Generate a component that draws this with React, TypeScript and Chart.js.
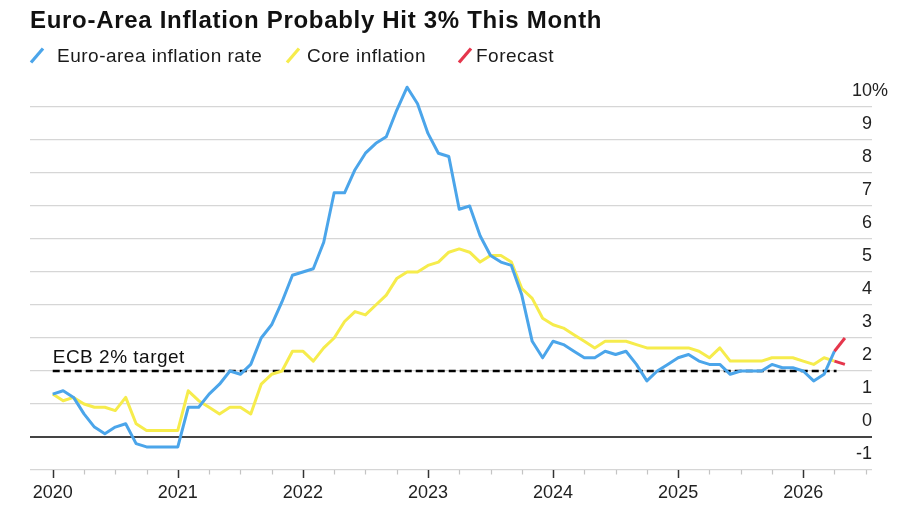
import React, { useEffect, useRef } from 'react';
import { Chart, registerables } from 'chart.js';

Chart.register(...registerables);

// Monthly data, first point = Dec 2019, last actual = Mar 2026
const headline = [
  1.3,
  1.4, 1.2, 0.7, 0.3, 0.1, 0.3, 0.4, -0.2, -0.3, -0.3, -0.3, -0.3,
  0.9, 0.9, 1.3, 1.6, 2.0, 1.9, 2.2, 3.0, 3.4, 4.1, 4.9, 5.0,
  5.1, 5.9, 7.4, 7.4, 8.1, 8.6, 8.9, 9.1, 9.9, 10.6, 10.1, 9.2,
  8.6, 8.5, 6.9, 7.0, 6.1, 5.5, 5.3, 5.2, 4.3, 2.9, 2.4, 2.9,
  2.8, 2.6, 2.4, 2.4, 2.6, 2.5, 2.6, 2.2, 1.7, 2.0, 2.2, 2.4,
  2.5, 2.3, 2.2, 2.2, 1.9, 2.0, 2.0, 2.0, 2.2, 2.1, 2.1, 2.0,
  1.7, 1.9, 2.6,
];
const core = [
  1.3,
  1.1, 1.2, 1.0, 0.9, 0.9, 0.8, 1.2, 0.4, 0.2, 0.2, 0.2, 0.2,
  1.4, 1.1, 0.9, 0.7, 0.9, 0.9, 0.7, 1.6, 1.9, 2.0, 2.6, 2.6,
  2.3, 2.7, 3.0, 3.5, 3.8, 3.7, 4.0, 4.3, 4.8, 5.0, 5.0, 5.2,
  5.3, 5.6, 5.7, 5.6, 5.3, 5.5, 5.5, 5.3, 4.5, 4.2, 3.6, 3.4,
  3.3, 3.1, 2.9, 2.7, 2.9, 2.9, 2.9, 2.8, 2.7, 2.7, 2.7, 2.7,
  2.7, 2.6, 2.4, 2.7, 2.3, 2.3, 2.3, 2.3, 2.4, 2.4, 2.4, 2.3,
  2.2, 2.4, 2.3,
];
// Forecast: from Mar 2026 (last actual) to Apr 2026
const forecastHeadline = [2.6, 3.0];
const forecastCore = [2.3, 2.2];

const yearLabels = ['2020', '2021', '2022', '2023', '2024', '2025', '2026'];
const yTickValues = [-1, 0, 1, 2, 3, 4, 5, 6, 7, 8, 9, 10];
const ecbTarget = 2;
const ecbLabel = 'ECB 2% target';
const targetEnd = 75.2;

const BLUE = '#4ba5ea';
const YELLOW = '#f6ec4c';
const RED = '#e5364c';
const FONT = "'Liberation Sans', Arial, Helvetica, sans-serif";

const xTickValues: number[] = [];
for (let v = 0; v <= 78; v += 3) xTickValues.push(v);

const decorPlugin = {
  id: 'decor',
  afterDraw(chart: any) {
    const { ctx, scales } = chart;
    const xs = scales.x;
    const ys = scales.y;
    const base = ys.getPixelForValue(-1);
    ctx.save();
    // x-axis tick marks
    xTickValues.forEach((v) => {
      const px = Math.round(xs.getPixelForValue(v)) + 0.5;
      const major = v % 12 === 0;
      ctx.beginPath();
      ctx.strokeStyle = major ? '#333' : '#c4c4c4';
      ctx.lineWidth = major ? 1.5 : 1.2;
      ctx.moveTo(px, base);
      ctx.lineTo(px, base + (major ? 8 : 4.5));
      ctx.stroke();
    });
    // percent sign after the top label
    ctx.fillStyle = '#222';
    ctx.font = `18px ${FONT}`;
    ctx.textAlign = 'left';
    ctx.textBaseline = 'middle';
    ctx.fillText('%', chart.chartArea.right, ys.getPixelForValue(10) - 16);
    // ECB label
    ctx.fillStyle = '#111';
    ctx.font = `19px ${FONT}`;
    ctx.textBaseline = 'alphabetic';
    try { (ctx as any).letterSpacing = '0.5px'; } catch (e) {}
    ctx.fillText(ecbLabel, xs.getPixelForValue(0), ys.getPixelForValue(ecbTarget) - 8);
    ctx.restore();
  },
};

function ChartView() {
  const ref = useRef<HTMLCanvasElement | null>(null);
  useEffect(() => {
    if (!ref.current) return;
    Chart.defaults.font.family = FONT;
    const toPts = (arr: number[], offset = 0) => arr.map((v, i) => ({ x: i + offset, y: v }));
    const last = headline.length - 1;
    const chart = new Chart(ref.current, {
      type: 'line',
      data: {
        datasets: [
          { label: 'Forecast', data: toPts(forecastHeadline, last), borderColor: RED, borderWidth: 3, clip: false as any, order: 0 },
          { label: 'Forecast core', data: toPts(forecastCore, last), borderColor: RED, borderWidth: 3, clip: false as any, order: 0 },
          { label: 'Euro-area inflation rate', data: toPts(headline), borderColor: BLUE, borderWidth: 3, clip: false as any, order: 1 },
          { label: 'Core inflation', data: toPts(core), borderColor: YELLOW, borderWidth: 3, clip: false as any, order: 2 },
          { label: ecbLabel, data: [{ x: 0, y: ecbTarget }, { x: targetEnd, y: ecbTarget }], borderColor: '#000', borderWidth: 2.5, borderDash: [7, 4], clip: false as any, order: 3 },
        ],
      },
      options: {
        animation: false,
        responsive: false,
        events: [],
        layout: { padding: { top: 107, left: 30, right: 0, bottom: 0 } },
        plugins: { legend: { display: false }, tooltip: { enabled: false }, title: { display: false } },
        elements: { point: { radius: 0 }, line: { tension: 0, borderJoinStyle: 'round' } },
        scales: {
          x: {
            type: 'linear',
            min: -2.18,
            max: 78.6,
            afterBuildTicks: (s: any) => { s.ticks = xTickValues.map((v) => ({ value: v })); },
            afterFit: (s: any) => { s.height = 40; },
            grid: { display: true, drawOnChartArea: false, drawTicks: false },
            border: { display: false },
            ticks: {
              autoSkip: false,
              maxRotation: 0,
              padding: 12,
              color: '#222',
              font: { size: 18 },
              callback: (v: any) => (Number(v) % 12 === 0 ? yearLabels[Number(v) / 12] : ''),
            },
          },
          y: {
            type: 'linear',
            position: 'right',
            min: -1,
            max: 10,
            afterBuildTicks: (s: any) => { s.ticks = yTickValues.map((v) => ({ value: v })); },
            afterFit: (s: any) => { s.width = 28; },
            grid: {
              drawTicks: false,
              color: (c: any) => (c.tick && c.tick.value === 0 ? '#444' : '#d6d6d6'),
              lineWidth: (c: any) => (c.tick && c.tick.value === 0 ? 2 : 1.3),
            },
            border: { display: false },
            ticks: {
              mirror: true,
              padding: 0,
              labelOffset: -16,
              color: '#222',
              font: { size: 18 },
              callback: (v: any) => String(v),
            },
          },
        },
      } as any,
      plugins: [decorPlugin],
    });
    return () => chart.destroy();
  }, []);
  return <canvas ref={ref} width={900} height={510} style={{ position: 'absolute', left: 0, top: 0, width: 900, height: 510 }} />;
}

function LegendIcon({ color }: { color: string }) {
  return (
    <svg width="16" height="18" style={{ position: 'absolute', left: 0, top: 0 }}>
      <line x1="2" y1="16.5" x2="14" y2="2.5" stroke={color} strokeWidth="3.2" />
    </svg>
  );
}

const legendItems = [
  { label: 'Euro-area inflation rate', color: BLUE, iconX: 29, textX: 57 },
  { label: 'Core inflation', color: YELLOW, iconX: 285, textX: 307 },
  { label: 'Forecast', color: RED, iconX: 457, textX: 476 },
];

export default function App() {
  useEffect(() => {
    document.body.style.margin = '0';
  }, []);
  return (
    <div style={{ position: 'fixed', left: 0, top: 0, width: 900, height: 510, background: '#fff', fontFamily: FONT, color: '#111' }}>
      <ChartView />
      <div style={{ position: 'absolute', left: 30, top: 8, fontSize: 24, lineHeight: '24px', fontWeight: 700, letterSpacing: '0.7px', whiteSpace: 'nowrap' }}>
        Euro-Area Inflation Probably Hit 3% This Month
      </div>
      {legendItems.map((it) => (
        <React.Fragment key={it.label}>
          <div style={{ position: 'absolute', left: it.iconX, top: 46, width: 16, height: 18 }}>
            <LegendIcon color={it.color} />
          </div>
          <div style={{ position: 'absolute', left: it.textX, top: 46, fontSize: 19, lineHeight: '19px', letterSpacing: '0.5px', whiteSpace: 'nowrap', color: '#1a1a1a' }}>
            {it.label}
          </div>
        </React.Fragment>
      ))}
    </div>
  );
}
